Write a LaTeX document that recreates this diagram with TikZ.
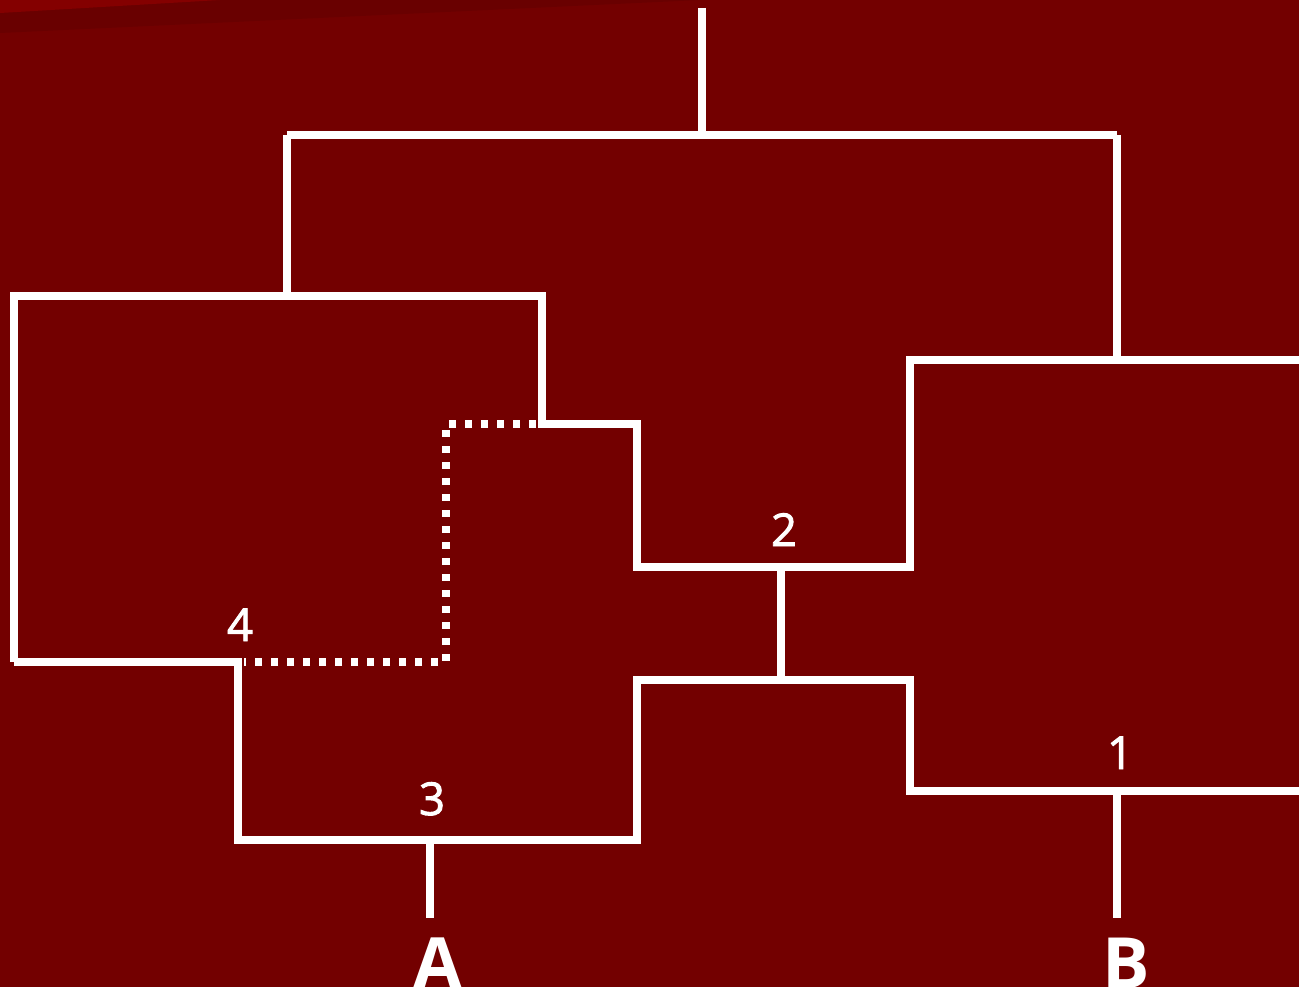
\documentclass[tikz,border=0pt]{standalone}
\usepackage{fontspec}
\setmainfont{Open Sans}
\newfontfamily\numfont[FakeBold=2]{Open Sans}
\definecolor{bg}{RGB}{115,0,0}
\definecolor{bgtop}{RGB}{132,0,0}
\definecolor{bgband}{RGB}{105,0,0}
\begin{document}
\begin{tikzpicture}[x=0.75pt,y=-0.75pt,
  branch/.style={draw=white,line width=5.5pt,line join=miter},
  dotbranch/.style={draw=white,line width=5.5pt,dash pattern=on 5pt off 7pt},
  num/.style={text=white,font=\numfont\fontsize{34}{40}\selectfont,anchor=base,inner sep=0pt},
  taxon/.style={text=white,font=\fontsize{53}{60}\selectfont\bfseries,anchor=base,inner sep=0pt}]
\fill[bg] (0,0) rectangle (1299,987);
\fill[bgband] (0,0) -- (700,0) -- (0,33) -- cycle;
\fill[bgtop] (0,0) -- (220,0) -- (0,13) -- cycle;
\useasboundingbox (0,0) rectangle (1299,987);
% coordinates
\coordinate (root) at (702,8);
\coordinate (r) at (702,135);
\coordinate (rl) at (287,135);
\coordinate (rr) at (1117,135);
\coordinate (lt) at (287,296);
\coordinate (rt) at (1117,360);
% top-level clade
\draw[branch] (root) -- (r);
\draw[branch] (rl) -- (rr);
\draw[branch] (rl) -- (lt);
\draw[branch] (rr) -- (rt);
% inner clades
\draw[branch] (14,662) -- (14,296) -- (542,296) -- (542,424) -- (637,424) -- (637,567) -- (910,567) -- (910,360) -- (1299,360);
\draw[dotbranch] (536,424) -- (446,424) -- (446,662) -- (244,662);
\draw[branch] (14,662) -- (238,662) -- (238,840) -- (637,840) -- (637,680) -- (910,680) -- (910,791) -- (1299,791);
\coordinate (n2t) at (781,567);
\coordinate (n2b) at (781,680);
\draw[branch] (n2t) -- (n2b);
\coordinate (n3) at (430,840);
\coordinate (tA) at (430,918);
\draw[branch] (n3) -- (tA);
\coordinate (n1) at (1117,791);
\coordinate (tB) at (1117,918);
\draw[branch] (n1) -- (tB);
% labels
\node[num] (l2) at (784,546) {2};
\node[num] (l4) at (240,641) {4};
\node[num] (l3) at (432,815) {3};
\node[num] (l1) at (1120,769) {1};
\node[taxon] (A) at (438,988) {A};
\node[taxon] (B) at (1126,988) {B};
\end{tikzpicture}
\end{document}
